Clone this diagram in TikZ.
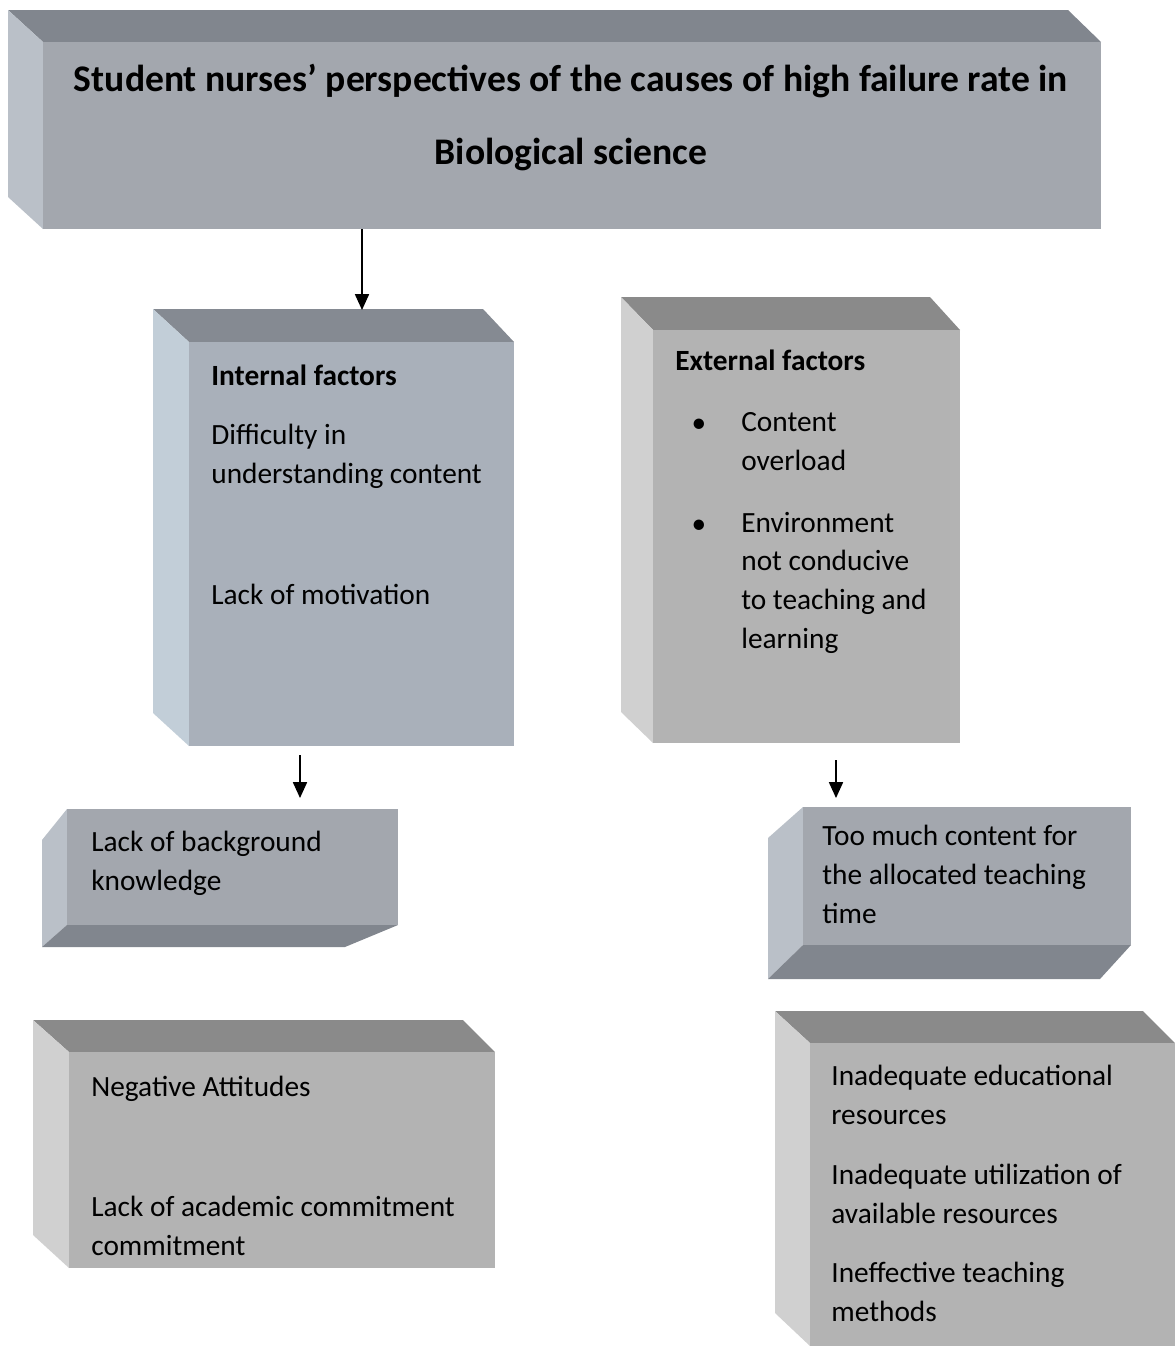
\documentclass[tikz,border=0pt]{standalone}
\usepackage{fontspec}
\setmainfont{Carlito}
\usetikzlibrary{arrows.meta}

% blue-grey faces
\definecolor{bgTop}{HTML}{81868E}
\definecolor{bgFront}{HTML}{A3A7AE}
\definecolor{bgSide}{HTML}{BAC0C8}
\definecolor{blTop}{HTML}{858A92}
\definecolor{blFront}{HTML}{A9B0BA}
\definecolor{blSide}{HTML}{C2CED8}
% neutral grey faces
\definecolor{gTop}{HTML}{8A8A8A}
\definecolor{gFront}{HTML}{B3B3B3}
\definecolor{gSide}{HTML}{D0D0D0}

% multi-line nodes sit on the baseline of their last line
\tikzset{
  txt/.style={anchor=base west, inner sep=0pt, align=left, font=\fontsize{16.7}{22}\selectfont},
  head/.style={txt, font=\fontsize{16.7}{22}\selectfont\bfseries},
  link/.style={-{Triangle[width=8pt,length=9pt]}, line width=0.8pt},
}

\begin{document}
\begin{tikzpicture}[x=0.02cm, y=-0.02cm]
		\useasboundingbox (0,0) rectangle (1174,1346);

		% title block
		\fill[bgTop] (8,10) -- (1068,10) -- (1101,42) -- (43,42) -- cycle;
		\fill[bgSide] (8,10) -- (43,42) -- (43,229) -- (8,197) -- cycle;
		\fill[bgFront] (43,42) rectangle (1101,229);
		\node[anchor=base, inner sep=0pt, align=center, font=\fontsize{21.4}{41}\selectfont\bfseries] (title) at (571,164)
			{Student nurses’ perspectives of the causes of high failure rate in\\ Biological science};

		% internal factors
		\fill[blTop] (153,309) -- (483,309) -- (514,342) -- (189,342) -- cycle;
		\fill[blSide] (153,309) -- (189,342) -- (189,746) -- (153,713) -- cycle;
		\fill[blFront] (189,342) rectangle (514,746);
		\node[head] (internal) at (211,385) {Internal factors};
		\node[txt] (difficulty) at (211,483) {Difficulty in\\ understanding content};
		\node[txt] (motivation) at (211,604) {Lack of motivation};

		% external factors
		\fill[gTop] (621,297) -- (930,297) -- (960,330) -- (653,330) -- cycle;
		\fill[gSide] (621,297) -- (653,330) -- (653,743) -- (621,712) -- cycle;
		\fill[gFront] (653,330) rectangle (960,743);
		\node[head] (external) at (675,370) {External factors};
		\node[txt, anchor=base] (dot1) at (699,432) {•};
		\node[txt] (overload) at (741,470) {Content\\ overload};
		\node[txt, anchor=base] (dot2) at (699,533) {•};
		\node[txt] (environment) at (741,648) {Environment\\ not conducive\\ to teaching and\\ learning};

		% lack of background knowledge
		\fill[bgSide] (42,840) -- (67,809) -- (67,925) -- (42,947) -- cycle;
		\fill[bgTop] (42,947) -- (67,925) -- (398,925) -- (345,947) -- cycle;
		\fill[bgFront] (67,809) rectangle (398,925);
		\node[txt] (background) at (91,890) {Lack of background\\ knowledge};

		% too much content
		\fill[bgSide] (768,838) -- (803,807) -- (803,945) -- (768,979) -- cycle;
		\fill[bgTop] (768,979) -- (803,945) -- (1131,945) -- (1100,979) -- cycle;
		\fill[bgFront] (803,807) rectangle (1131,945);
		\node[txt] (toomuch) at (822,923) {Too much content for\\ the allocated teaching\\ time};

		% attitudes
		\fill[gTop] (33,1020) -- (463,1020) -- (495,1052) -- (69,1052) -- cycle;
		\fill[gSide] (33,1020) -- (69,1052) -- (69,1268) -- (33,1235) -- cycle;
		\fill[gFront] (69,1052) rectangle (495,1268);
		\node[txt] (attitudes) at (91,1096) {Negative Attitudes};
		\node[txt] (commitment) at (91,1255) {Lack of academic commitment\\ commitment};

		% resources
		\fill[gTop] (775,1011) -- (1143,1011) -- (1175,1043) -- (810,1043) -- cycle;
		\fill[gSide] (775,1011) -- (810,1043) -- (810,1346) -- (775,1313) -- cycle;
		\fill[gFront] (810,1043) rectangle (1175,1346);
		\node[txt] (resources) at (831,1124) {Inadequate educational\\ resources};
		\node[txt] (utilization) at (831,1223) {Inadequate utilization of\\ available resources};
		\node[txt] (methods) at (831,1321) {Ineffective teaching\\ methods};

		% arrows
		\coordinate (a1) at (362,229);
		\coordinate (b1) at (362,310);
		\coordinate (a2) at (300,755);
		\coordinate (b2) at (300,798);
		\coordinate (a3) at (836,760);
		\coordinate (b3) at (836,798);
		\draw[link] (a1) -- (b1);
		\draw[link] (a2) -- (b2);
		\draw[link] (a3) -- (b3);
	\end{tikzpicture}
\end{document}
